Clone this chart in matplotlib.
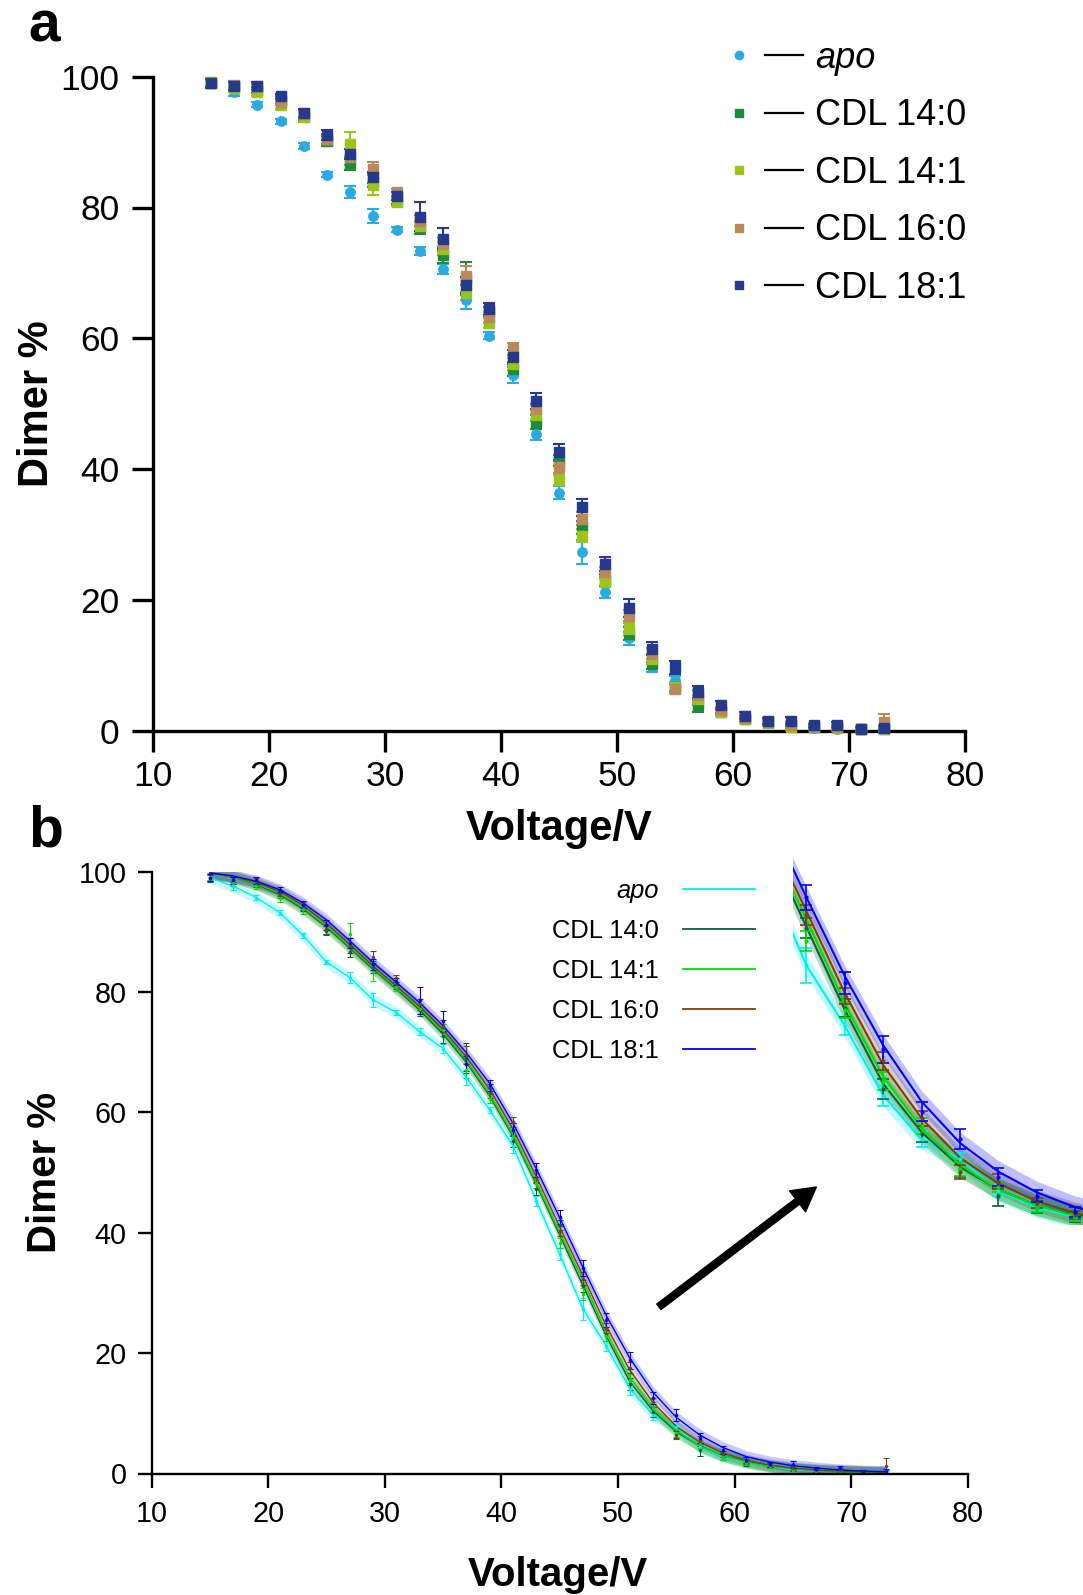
import numpy as np
import matplotlib
matplotlib.use('Agg')
import matplotlib.pyplot as plt
from matplotlib.lines import Line2D
from matplotlib.legend_handler import HandlerTuple

plt.rcParams['font.family'] = ['Liberation Sans', 'DejaVu Sans']

# data: dimer % vs voltage (mean, +/- error)
voltage = [15, 17, 19, 21, 23, 25, 27, 29, 31, 33, 35, 37, 39, 41, 43,
           45, 47, 49, 51, 53, 55, 57, 59, 61, 63, 65, 67, 69, 71, 73]

apo = [99.0, 97.6, 95.7, 93.2, 89.4, 85.0, 82.4, 78.7, 76.6, 73.4, 70.6, 65.8, 60.4, 54.4, 45.3,
       36.4, 27.3, 21.2, 14.1, 9.7, 7.7, 4.4, 2.8, 1.8, 1.2, 0.6, 0.4, 0.3, 0.2, 0.2]
apo_err = [0.5, 0.6, 0.4, 0.4, 0.4, 0.4, 0.9, 1.1, 0.4, 0.6, 0.8, 1.3, 0.5, 1.2, 0.8,
           1.0, 1.8, 0.9, 1.0, 0.8, 0.6, 0.5, 0.4, 0.3, 0.3, 0.3, 0.2, 0.2, 0.2, 0.2]

cdl140 = [99.0, 98.6, 98.0, 96.5, 94.0, 90.2, 86.7, 84.1, 81.1, 77.0, 72.7, 69.1, 64.0, 55.3, 47.2,
          41.3, 31.1, 23.0, 14.8, 10.2, 6.7, 3.9, 2.8, 1.8, 1.3, 0.8, 0.5, 0.5, 0.3, 0.3]
cdl140_err = [0.7, 0.6, 0.5, 0.5, 0.6, 0.8, 0.9, 1.0, 0.6, 1.0, 1.2, 2.5, 0.8, 1.0, 1.0,
              0.8, 1.0, 0.9, 1.0, 0.8, 0.8, 1.0, 0.6, 0.5, 0.4, 0.4, 0.3, 0.3, 0.3, 0.3]

cdl141 = [99.2, 98.2, 97.6, 95.6, 93.8, 90.5, 89.7, 83.4, 80.8, 77.2, 73.7, 67.0, 62.3, 56.1, 48.2,
          38.3, 29.8, 22.8, 15.6, 11.0, 6.7, 4.9, 2.8, 1.8, 1.2, 0.5, 0.5, 0.4, 0.3, 0.3]
cdl141_err = [0.6, 0.6, 0.5, 0.6, 0.8, 0.8, 1.8, 1.5, 0.6, 0.8, 1.0, 1.2, 0.8, 0.9, 0.8,
              0.8, 1.0, 0.8, 0.9, 0.8, 0.7, 0.6, 0.5, 0.4, 0.3, 0.4, 0.3, 0.3, 0.3, 0.3]

cdl160 = [99.0, 98.8, 98.4, 96.2, 94.3, 90.5, 87.7, 85.9, 82.3, 78.0, 74.4, 69.6, 63.2, 58.4, 49.2,
          40.3, 32.4, 24.2, 17.6, 11.8, 6.4, 5.4, 3.2, 2.0, 1.4, 0.9, 0.6, 0.6, 0.3, 1.3]
cdl160_err = [0.5, 0.5, 0.5, 0.5, 0.6, 0.8, 1.2, 1.0, 0.6, 0.9, 1.0, 1.5, 0.8, 0.9, 0.8,
              0.9, 1.0, 0.8, 0.9, 0.8, 0.7, 0.8, 0.5, 0.4, 0.4, 0.4, 0.3, 0.3, 0.3, 1.2]

cdl181 = [99.0, 98.6, 98.6, 97.0, 94.5, 91.1, 88.2, 84.6, 81.8, 78.6, 75.2, 68.1, 64.5, 57.1, 50.4,
          42.6, 34.2, 25.5, 18.8, 12.5, 9.7, 5.9, 3.9, 2.3, 1.5, 1.5, 0.8, 0.9, 0.3, 0.4]
cdl181_err = [0.6, 0.6, 0.6, 0.4, 0.6, 0.8, 0.8, 0.9, 0.6, 2.2, 1.6, 1.2, 0.9, 1.1, 1.2,
              1.2, 1.3, 1.1, 1.4, 1.0, 1.0, 0.9, 0.6, 0.5, 0.4, 0.6, 0.3, 0.4, 0.3, 0.3]

# fitted curves of panel b at the same voltages
cdl140_fit = [99.8, 99.1, 97.9, 96.2, 93.8, 90.8, 87.3, 83.8, 80.5, 77.0, 73.0, 68.3, 62.7, 56.0, 48.0,
              39.6, 31.2, 22.8, 15.3, 10.4, 6.9, 4.6, 3.0, 2.0, 1.3, 0.8, 0.5, 0.3, 0.2, 0.1]
cdl141_fit = [99.8, 99.1, 98.0, 96.4, 94.0, 91.0, 87.5, 84.0, 80.7, 77.3, 73.4, 68.6, 63.0, 56.3, 48.3,
              40.0, 32.0, 23.4, 16.0, 10.8, 7.1, 4.6, 3.0, 1.9, 1.2, 0.8, 0.5, 0.3, 0.2, 0.1]
cdl160_fit = [99.8, 99.2, 98.2, 96.7, 94.4, 91.4, 87.9, 84.3, 81.0, 77.6, 73.8, 69.2, 63.8, 57.2, 49.3,
              41.0, 32.8, 24.5, 17.2, 11.8, 7.8, 5.2, 3.4, 2.2, 1.4, 0.9, 0.6, 0.4, 0.3, 0.2]
cdl181_fit = [99.8, 99.3, 98.4, 97.0, 94.8, 92.0, 88.5, 84.9, 81.6, 78.2, 74.4, 69.9, 64.8, 58.2, 50.6,
              42.5, 34.2, 26.2, 19.2, 13.5, 9.3, 6.4, 4.3, 2.8, 1.9, 1.3, 0.9, 0.6, 0.4, 0.3]

labels = ['apo', 'CDL 14:0', 'CDL 14:1', 'CDL 16:0', 'CDL 18:1']
means = [apo, cdl140, cdl141, cdl160, cdl181]
errs = [apo_err, cdl140_err, cdl141_err, cdl160_err, cdl181_err]
fits = [apo, cdl140_fit, cdl141_fit, cdl160_fit, cdl181_fit]

colors_a = ['#29abe2', '#1a8c3a', '#9bc31c', '#b8895a', '#253a8e']
markers_a = ['o', 's', 's', 's', 's']
colors_b = ['#00f0f0', '#0d5c42', '#00e000', '#7b3f14', '#0000ff']

W, H = 1083, 1595
fig = plt.figure(figsize=(W / 100, H / 100), dpi=100)

# ---------------- panel a ----------------
ax_a = fig.add_axes([153 / W, 1 - 730.7 / H, (965 - 153) / W, (730.7 - 76.7) / H])
for m, e, c, mk in zip(means, errs, colors_a, markers_a):
    ax_a.errorbar(voltage, m, yerr=e, fmt=mk, color=c, ms=6.8, capsize=4.5,
                  elinewidth=1.5, capthick=1.5, clip_on=False, zorder=3)
ax_a.set_xlim(10, 80)
ax_a.set_ylim(0, 100)
ax_a.set_xticks(range(10, 81, 10))
ax_a.set_yticks(range(0, 101, 20))
for s in ['top', 'right']:
    ax_a.spines[s].set_visible(False)
for s in ['left', 'bottom']:
    ax_a.spines[s].set_linewidth(2.4)
ax_a.tick_params(direction='out', length=15, width=2.4, labelsize=25.5)
ax_a.tick_params(axis='y', pad=9)
ax_a.tick_params(axis='x', pad=6)
ax_a.set_xlabel('Voltage/V', fontsize=30, fontweight='bold', va='center')
ax_a.set_ylabel('Dimer %', fontsize=30, fontweight='bold', va='center')
ax_a.xaxis.set_label_coords(0.5, -0.151)
ax_a.yaxis.set_label_coords(-0.143, 0.5)

handles_a = [(Line2D([], [], ls='none', marker=mk, color=c, ms=6),
              Line2D([], [], color='black', lw=1.6))
             for c, mk in zip(colors_a, markers_a)]
leg_a = ax_a.legend(handles_a, labels, handler_map={tuple: HandlerTuple(ndivide=None, pad=0.19)},
                    loc='upper left', bbox_to_anchor=(720 / W, 1 - 41 / H),
                    bbox_transform=fig.transFigure, frameon=False, borderpad=0,
                    borderaxespad=0, fontsize=26, handlelength=2.3, handletextpad=0.33,
                    labelspacing=0.62)
leg_a.get_texts()[0].set_fontstyle('italic')

# ---------------- panel b ----------------
ax_b = fig.add_axes([151.5 / W, 1 - 1473.5 / H, (968 - 151.5) / W, (1473.5 - 871.7) / H])
for m, f, e, c in zip(means, fits, errs, colors_b):
    ff = np.array(f)
    ax_b.fill_between(voltage, ff - 1.0, ff + 1.0, color=c, alpha=0.22, lw=0)
    ax_b.plot(voltage, f, color=c, lw=1.0)
    ax_b.errorbar(voltage, m, yerr=e, fmt='.', color=c, ms=3, capsize=2.5,
                  elinewidth=0.8, capthick=0.8)
ax_b.set_xlim(10, 80)
ax_b.set_ylim(0, 100)
ax_b.set_xticks(range(10, 81, 10))
ax_b.set_yticks(range(0, 101, 20))
for s in ['top', 'right']:
    ax_b.spines[s].set_visible(False)
for s in ['left', 'bottom']:
    ax_b.spines[s].set_linewidth(1.7)
ax_b.tick_params(direction='out', length=10, width=1.7, labelsize=20.7)
ax_b.tick_params(axis='y', pad=8)
ax_b.tick_params(axis='x', pad=9)
ax_b.set_xlabel('Voltage/V', fontsize=29, fontweight='bold', va='center')
ax_b.set_ylabel('Dimer %', fontsize=29, fontweight='bold', va='center')
ax_b.xaxis.set_label_coords(0.498, -0.169)
ax_b.yaxis.set_label_coords(-0.131, 0.5)

handles_b = [Line2D([], [], color=c, lw=1.3) for c in colors_b]
leg_b = ax_b.legend(handles_b, labels, loc='upper right', markerfirst=False,
                    bbox_to_anchor=(755 / W, 1 - 879 / H), bbox_transform=fig.transFigure,
                    frameon=False, borderpad=0, borderaxespad=0, fontsize=18.4,
                    handlelength=2.82, handletextpad=0.94, labelspacing=0.63)
leg_b.get_texts()[0].set_fontstyle('italic')

ax_b.annotate('', xy=(67.0, 47.6), xytext=(53.5, 27.7),
              arrowprops=dict(width=5, headwidth=19, headlength=17,
                              facecolor='black', edgecolor='black', shrink=0))

# zoomed inset of the 47-61 V region
ax_in = fig.add_axes([793 / W, 1 - 1225 / H, 290 / W, 375 / H])
for m, f, e, c in zip(means, fits, errs, colors_b):
    ff = np.array(f)
    ax_in.fill_between(voltage, ff - 1.1, ff + 1.1, color=c, alpha=0.25, lw=0)
    ax_in.plot(voltage, f, color=c, lw=1.5)
    ax_in.errorbar(voltage, m, yerr=e, fmt='.', color=c, ms=4, capsize=4,
                   elinewidth=1.2, capthick=1.2)
ax_in.set_xlim(46.3, 61.4)
ax_in.set_ylim(1.0, 39)
ax_in.axis('off')

fig.text(28 / W, 1 - 42 / H, 'a', fontsize=41, fontweight='bold', va='baseline')
fig.text(28 / W, 1 - 847 / H, 'b', fontsize=41, fontweight='bold', va='baseline')

fig.savefig('out.png', dpi=100)
